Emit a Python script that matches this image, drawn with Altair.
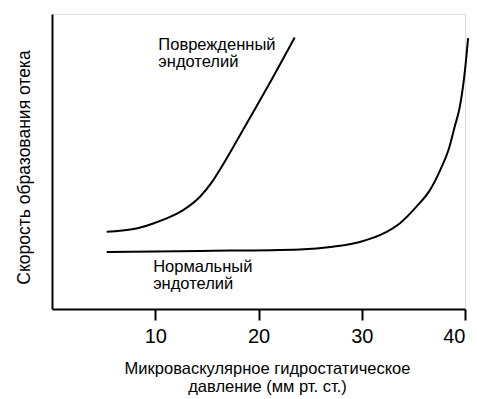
import altair as alt
import pandas as pd

# Damaged endothelium curve
damaged_x = [5.3, 7.9, 9.8, 11.1, 12.7, 14.4, 15.4, 16.5, 17.9, 19.2, 20.8, 23.5]
damaged_y = [26.2, 27.1, 29.0, 30.7, 33.5, 38.3, 42.6, 48.6, 57.0, 65.0, 74.8, 92.0]

# Normal endothelium curve
normal_x = [5.3, 14.4, 24.0, 27.2, 29.9, 31.8, 33.7, 35.3, 36.6, 37.6, 38.4, 39.0, 39.5, 40.0, 40.3]
normal_y = [19.3, 19.7, 20.2, 21.1, 22.8, 25.1, 29.1, 34.7, 40.3, 47.1, 53.9, 61.8, 68.6, 81.0, 91.8]

# Curve labels
label_text = ["Поврежденный\nэндотелий", "Нормальный\nэндотелий"]
label_x = [10.3, 9.8]
label_y = [92.2, 17.0]

x_ticks = [10, 20, 30, 40]
x_title = ["Микроваскулярное гидростатическое", "давление (мм рт. ст.)"]
y_title = "Скорость образования отека"

FONT = "Liberation Sans"

df = pd.concat([
    pd.DataFrame({"x": damaged_x, "y": damaged_y, "s": "damaged"}),
    pd.DataFrame({"x": normal_x, "y": normal_y, "s": "normal"}),
])
labels = pd.DataFrame({"t": label_text, "x": label_x, "y": label_y})

xs = alt.Scale(domain=[0, 40], nice=False, zero=False)
ys = alt.Scale(domain=[0, 100], nice=False, zero=False)

lines = alt.Chart(df).mark_line(
    color="black", strokeWidth=2, interpolate="monotone", clip=False
).encode(
    x=alt.X("x:Q", scale=xs, axis=alt.Axis(
        values=x_ticks, title=x_title, grid=False,
        domainColor="black", domainWidth=2, tickColor="black", tickWidth=2,
        tickSize=11, labelPadding=6, labelFont=FONT, labelFontSize=20,
        labelColor="black", titleFont=FONT, titleFontSize=16.5,
        titleFontWeight="normal", titleColor="black", titleX=215, titleY=51,
        titleBaseline="top", titleLineHeight=18, titleAnchor="middle",
    )),
    y=alt.Y("y:Q", scale=ys, axis=alt.Axis(
        title=y_title, labels=False, ticks=False, grid=False,
        domainColor="black", domainWidth=2, titleFont=FONT, titleFontSize=17.5,
        titleFontWeight="normal", titleColor="black", titleX=-28, titleY=153,
        titleAngle=-90, titleBaseline="middle", titleAlign="center",
    )),
    detail="s:N",
)

text = alt.Chart(labels).mark_text(
    align="left", baseline="top", lineBreak="\n", font=FONT, fontSize=16.5,
    lineHeight=17, color="black", clip=False
).encode(x=alt.X("x:Q", scale=xs), y=alt.Y("y:Q", scale=ys), text="t:N")

chart = alt.layer(lines, text).properties(
    width=413, height=295,
    autosize=alt.AutoSizeParams(type="none"),
    padding={"left": 44, "top": 6, "right": 4, "bottom": 90},
).configure_view(stroke=None).configure(background="white")

chart.save("out.html", embed_options={"renderer": "svg", "actions": False})
